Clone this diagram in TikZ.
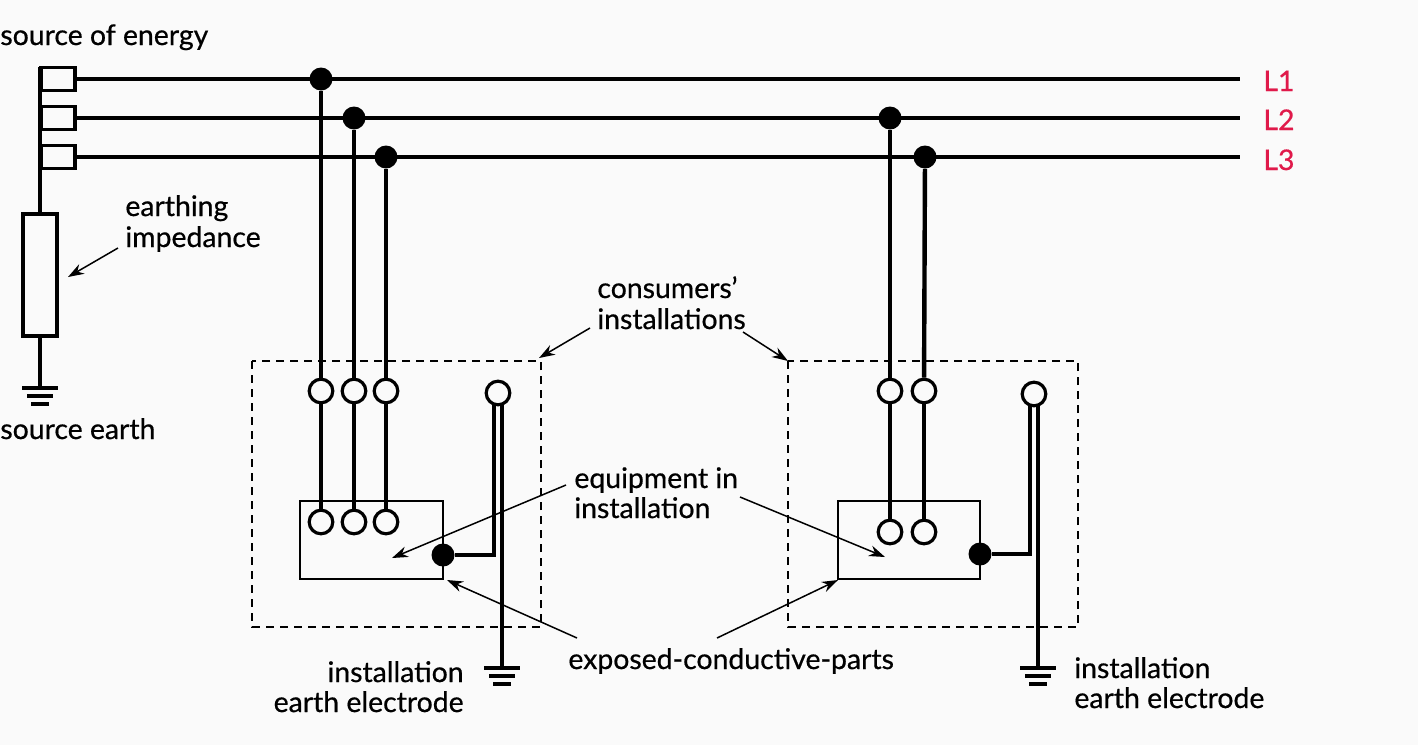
\documentclass[tikz,border=0pt]{standalone}
\usepackage{fontspec}
\setmainfont{Lato}
\newfontfamily\lblfont{Lato}[FakeBold=0.6]
\usetikzlibrary{arrows.meta}
\definecolor{bgcol}{HTML}{FAFAFA}
\definecolor{phase}{HTML}{E0194A}
\tikzset{
  wire/.style={line width=2.2pt},
  pewire/.style={line width=1.6pt},
  thinbox/.style={line width=0.9pt},
  dashbox/.style={line width=0.75pt, dash pattern=on 4pt off 3pt},
  jdot/.style={circle, fill=black, inner sep=0pt, minimum size=11.5pt},
  term/.style={circle, draw, line width=1.6pt, fill=bgcol, inner sep=0pt, minimum size=11.8pt},
  fuse/.style={rectangle, draw, line width=1.7pt, fill=bgcol, inner sep=0pt, minimum width=17pt, minimum height=11.5pt},
  imped/.style={rectangle, draw, line width=1.7pt, fill=bgcol, inner sep=0pt, minimum width=17pt, minimum height=61pt},
  lbl/.style={font=\lblfont\fontsize{14.2}{16}\selectfont, inner sep=0pt},
  plbl/.style={lbl, text=phase},
  callout/.style={-{Stealth[length=8pt,width=5.5pt]}, line width=0.75pt},
  gnd/.pic={\draw[line width=1.6pt] (-18,0) -- (18,0) (-13,8) -- (13,8) (-9,16) -- (9,16);}
}
\begin{document}
\begin{tikzpicture}[x=0.5pt,y=-0.5pt]
\useasboundingbox[fill=bgcol] (0,0) rectangle (1418,745);

% ---------- source ----------
\node[fuse] (F1) at (58,79) {};
\node[fuse] (F2) at (58,118) {};
\node[fuse] (F3) at (58,157) {};
\node[imped] (Z) at (40,275) {};
\coordinate (bustop) at (40,67);
\coordinate (sg) at (40,388);
\draw[wire] (bustop) -- (Z.north);
\draw[wire] (Z.south) -- (sg);
\pic at (sg) {gnd};
\node[fuse] at (F1) {};
\node[fuse] at (F2) {};
\node[fuse] at (F3) {};

% ---------- lines ----------
\coordinate (E1) at (1240,79);
\coordinate (E2) at (1240,118);
\coordinate (E3) at (1240,157);
\draw[wire] (F1.east) -- (E1);
\draw[wire] (F2.east) -- (E2);
\draw[wire] (F3.east) -- (E3);
\node[plbl, anchor=base west] (L1) at (1263,91) {L1};
\node[plbl, anchor=base west] (L2) at (1263,130) {L2};
\node[plbl, anchor=base west] (L3) at (1263,170) {L3};

% ---------- left installation ----------
\node[jdot] (JA1) at (321,79) {};
\node[jdot] (JA2) at (354,118) {};
\node[jdot] (JA3) at (386,157) {};
\draw[dashbox] (252,361) rectangle (541,627);
\node[thinbox, draw, minimum width=71.5pt, minimum height=39pt, inner sep=0pt] (EqA) at (371.5,540) {};
\node[term] (TA1) at (321,391) {};
\node[term] (TA2) at (354,391) {};
\node[term] (TA3) at (386,391) {};
\node[term] (QA1) at (321,522) {};
\node[term] (QA2) at (354,522) {};
\node[term] (QA3) at (386,522) {};
\draw[wire] (JA1) -- (TA1); \draw[wire] (TA1) -- (QA1);
\draw[wire] (JA2) -- (TA2); \draw[wire] (TA2) -- (QA2);
\draw[wire] (JA3) -- (TA3); \draw[wire] (TA3) -- (QA3);
\node[jdot] (XA) at (443,555) {};
\node[term] (PA) at (498,393) {};
\coordinate (PAl) at (494,405);
\coordinate (PAr) at (502,405);
\coordinate (GA) at (502,668);
\draw[pewire] (PAl) |- (XA);
\draw[pewire] (PAr) -- (GA);
\pic at (GA) {gnd};

% ---------- right installation ----------
\node[jdot] (JB2) at (890,118) {};
\node[jdot] (JB3) at (925,157) {};
\draw[dashbox] (788,361) rectangle (1078,627);
\node[thinbox, draw, minimum width=71pt, minimum height=39pt, inner sep=0pt] (EqB) at (909,540) {};
\node[term] (TB2) at (890,391) {};
\node[term] (TB3) at (924,391) {};
\node[term] (QB2) at (890,532) {};
\node[term] (QB3) at (924,532) {};
\draw[wire] (JB2) -- (TB2); \draw[wire] (TB2) -- (QB2);
\draw[wire] (JB3) -- (TB3); \draw[wire] (TB3) -- (QB3);
\node[jdot] (XB) at (980,554) {};
\node[term] (PB) at (1034,394) {};
\coordinate (PBl) at (1030,406);
\coordinate (PBr) at (1038,406);
\coordinate (GB) at (1038,668);
\draw[pewire] (PBl) |- (XB);
\draw[pewire] (PBr) -- (GB);
\pic at (GB) {gnd};

% ---------- labels ----------
\node[lbl, anchor=base west] (soe) at (0,45) {source of energy};
\node[lbl, anchor=base west] (eimp1) at (125,216) {earthing};
\node[lbl, anchor=base west] (eimp2) at (125,247) {impedance};
\node[lbl, anchor=base west] (sear) at (0,439) {source earth};
\node[lbl, anchor=base west] (ci1) at (597,298) {consumers’};
\node[lbl, anchor=base west] (ci2) at (597,329) {installations};
\node[lbl, anchor=base west] (eq1) at (574,488) {equipment in};
\node[lbl, anchor=base west] (eq2) at (574,518) {installation};
\node[lbl, anchor=base west] (ecp) at (568,669) {exposed-conductive-parts};
\node[lbl, anchor=base east] (iea1) at (464,682) {installation};
\node[lbl, anchor=base east] (iea2) at (464,712) {earth electrode};
\node[lbl, anchor=base west] (ieb1) at (1074,678) {installation};
\node[lbl, anchor=base west] (ieb2) at (1074,708) {earth electrode};

% ---------- callouts ----------
\coordinate (aZ) at (68,277);
\coordinate (aCA) at (539,358);
\coordinate (aCB) at (788,361);
\coordinate (aEA) at (392,558);
\coordinate (aEB) at (885,557);
\coordinate (aXA) at (447,580);
\coordinate (aXB) at (838,580);
\draw[callout] (118,248) -- (aZ);
\draw[callout] (590,328) -- (aCA);
\draw[callout] (743,332) -- (aCB);
\draw[callout] (566,485) -- (aEA);
\draw[callout] (740,497) -- (aEB);
\draw[callout] (577,638) -- (aXA);
\draw[callout] (717,638) -- (aXB);
\end{tikzpicture}
\end{document}
